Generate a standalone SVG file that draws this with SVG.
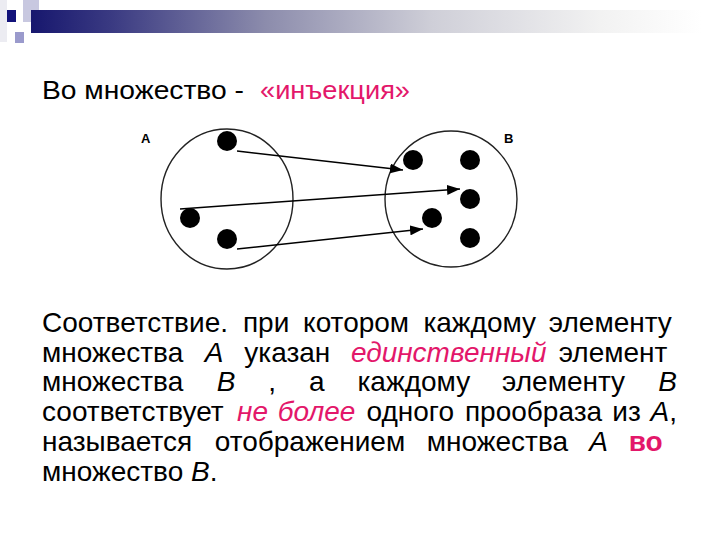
<svg xmlns="http://www.w3.org/2000/svg" width="720" height="540" viewBox="0 0 720 540">
<defs>
<linearGradient id="bar" x1="0" x2="1" y1="0" y2="0">
<stop offset="0" stop-color="#17176e"/>
<stop offset="0.12" stop-color="#3a3a82"/>
<stop offset="0.35" stop-color="#8c8cac"/>
<stop offset="0.6" stop-color="#cfcfd8"/>
<stop offset="0.85" stop-color="#f2f2f2"/>
<stop offset="1" stop-color="#ffffff"/>
</linearGradient>
<marker id="ah" markerUnits="userSpaceOnUse" markerWidth="14" markerHeight="10" refX="13" refY="5" orient="auto"><path d="M0,0 L13,5 L0,10 z" fill="#000"/></marker>
<style>
.t{font-family:"Liberation Sans",Arial,sans-serif;font-size:28px;fill:#000}
.ttl{font-family:"Liberation Sans",Arial,sans-serif;font-size:25px;fill:#000}
.m{fill:#E3176A}
.i{font-style:italic}
.b{font-weight:bold}
.lbl{font-family:"Liberation Sans",Arial,sans-serif;font-size:13px;font-weight:bold;fill:#000}
.set{fill:none;stroke:#222;stroke-width:1.4}
.dot{fill:#000}
.arr{stroke:#000;stroke-width:1.5;fill:none;marker-end:url(#ah)}
</style>
</defs>
<rect width="720" height="540" fill="#fff"/>
<g id="header">
<rect x="0" y="0" width="7" height="42" fill="#ececf2"/>
<rect x="23" y="0" width="16" height="22" fill="#c8c8e0"/>
<rect x="31" y="10" width="670" height="23" fill="url(#bar)"/>
<rect x="7" y="10" width="9" height="12" fill="#12127a"/>
<rect x="15" y="32" width="9" height="11" fill="#9a9acc"/>
</g>
<g id="title">
<text class="ttl" x="42" y="99" textLength="202" lengthAdjust="spacingAndGlyphs">Во множество -</text>
<text class="ttl m" x="260" y="99" textLength="150" lengthAdjust="spacingAndGlyphs">«инъекция»</text>
</g>
<g id="setA">
<ellipse class="set" cx="227" cy="199" rx="66" ry="70"/>
<circle class="dot" cx="227" cy="141" r="10"/>
<circle class="dot" cx="190" cy="218" r="10"/>
<circle class="dot" cx="227" cy="239" r="10"/>
<text class="lbl" x="141" y="143">A</text>
</g>
<g id="setB">
<ellipse class="set" cx="451" cy="199" rx="66" ry="68"/>
<circle class="dot" cx="413" cy="160" r="10"/>
<circle class="dot" cx="470" cy="160" r="10"/>
<circle class="dot" cx="470" cy="199" r="10"/>
<circle class="dot" cx="432" cy="218" r="10"/>
<circle class="dot" cx="470" cy="238" r="10"/>
<text class="lbl" x="504" y="143">B</text>
</g>
<g id="connectors">
<line class="arr" x1="237" y1="151" x2="403" y2="170"/>
<line class="arr" x1="180" y1="209" x2="460" y2="189"/>
<line class="arr" x1="237" y1="249" x2="423" y2="229"/>
</g>
<g id="body">
<text class="t" y="332"><tspan x="42">Соответствие.</tspan><tspan x="242.9">при</tspan><tspan x="303.1">котором</tspan><tspan x="423.4">каждому</tspan><tspan x="548.8">элементу</tspan></text>
<text class="t" y="361.7"><tspan x="42">множества</tspan><tspan x="204.7" class="i">А</tspan><tspan x="244.3">указан</tspan><tspan x="350.9" class="i m">единственный</tspan><tspan x="558.7">элемент</tspan></text>
<text class="t" y="391.4"><tspan x="42">множества</tspan><tspan x="216.7" class="i">В</tspan><tspan x="268.3">,</tspan><tspan x="309">а</tspan><tspan x="357.5">каждому</tspan><tspan x="502.1">элементу</tspan><tspan x="658.3" class="i">В</tspan></text>
<text class="t" y="421.1"><tspan x="42">соответствует</tspan><tspan x="237" class="i m">не</tspan><tspan x="277.7" class="i m">более</tspan><tspan x="366.5">одного</tspan><tspan x="464.9">прообраза</tspan><tspan x="612.3">из</tspan><tspan x="650.5"><tspan class="i">А</tspan>,</tspan></text>
<text class="t" y="450.8"><tspan x="42">называется</tspan><tspan x="214.7">отображением</tspan><tspan x="426.8">множества</tspan><tspan x="589.3" class="i">А</tspan><tspan x="628.7" class="b m">во</tspan></text>
<text class="t" x="42" y="480.5">множество <tspan class="i">В</tspan>.</text>
</g>
</svg>
